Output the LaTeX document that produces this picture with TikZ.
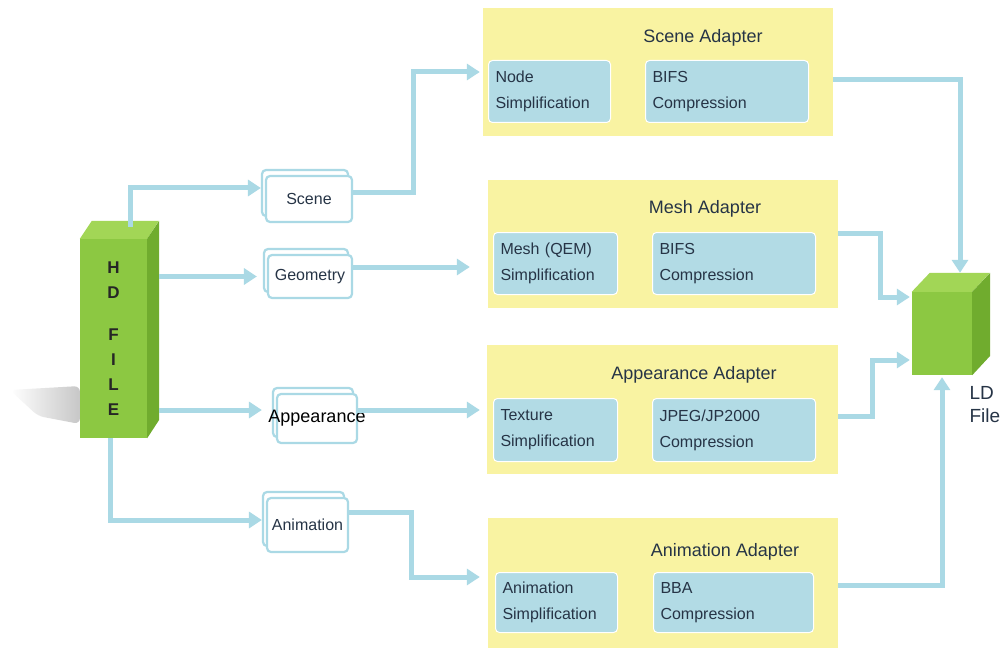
\documentclass[tikz,border=0pt]{standalone}
\usepackage{fontspec}
\setmainfont{Liberation Sans}
\usetikzlibrary{arrows.meta,shadows,calc}
\definecolor{arrowblue}{RGB}{170,217,229}
\definecolor{padyellow}{RGB}{249,243,162}
\definecolor{innerblue}{RGB}{178,219,229}
\definecolor{gfront}{RGB}{140,200,66}
\definecolor{gtop}{RGB}{162,214,86}
\definecolor{gside}{RGB}{112,172,46}
\definecolor{txtdark}{RGB}{38,52,70}
\begin{document}
\begin{tikzpicture}[x=1pt,y=-1pt,
  arr/.style={draw=arrowblue,line width=5pt,-{Triangle[length=13pt,width=16pt]}},
  adapter/.style={fill=padyellow,draw=none,inner sep=0pt},
  title/.style={font=\fontsize{18}{20}\selectfont,text=txtdark},
  inner/.style={fill=innerblue,draw=white,line width=1pt,rounded corners=4pt,
     align=left,anchor=north west,inner xsep=7pt,inner ysep=0pt,
     font=\fontsize{16}{26}\selectfont,text=txtdark},
  doc/.style={fill=white,draw=arrowblue,line width=2.2pt,rounded corners=4pt,
     copy shadow={shadow xshift=-4pt,shadow yshift=6pt},inner sep=0pt,
     font=\fontsize{16}{18}\selectfont,text=txtdark},
]
\useasboundingbox (0,0) rectangle (1002,650);
\fill[white] (0,0) rectangle (1002,650);

% shadow of HD file
\shade[left color=white,right color=black!22,rounded corners=6pt] (10,390) -- (80,386) -- (80,424) -- (38,416) -- cycle;

% adapters
\node[adapter,minimum width=350pt,minimum height=128pt] (sa) at (658,72) {};
\node[adapter,minimum width=350pt,minimum height=128pt] (ma) at (663,244) {};
\node[adapter,minimum width=351pt,minimum height=129pt] (aa) at (662.5,409.5) {};
\node[adapter,minimum width=350pt,minimum height=130pt] (na) at (663,583) {};

\node[title] (sat) at (703,38) {Scene Adapter};
\node[title] (mat) at (705,209) {Mesh Adapter};
\node[title] (aat) at (694,375) {Appearance Adapter};
\node[title] (nat) at (725,552) {Animation Adapter};

\node[inner,minimum width=122pt,minimum height=62pt,text width=108pt] (sa1) at (488,60) {Node\\Simplification};
\node[inner,minimum width=163pt,minimum height=62pt,text width=149pt] (sa2) at (645,60) {BIFS\\Compression};
\node[inner,minimum width=124pt,minimum height=62pt,text width=110pt] (ma1) at (493,232) {Mesh (QEM)\\Simplification};
\node[inner,minimum width=163pt,minimum height=62pt,text width=149pt] (ma2) at (652,232) {BIFS\\Compression};
\node[inner,minimum width=124pt,minimum height=63pt,text width=110pt] (aa1) at (493,398) {Texture\\Simplification};
\node[inner,minimum width=163pt,minimum height=63pt,text width=149pt] (aa2) at (652,398) {JPEG/JP2000\\Compression};
\node[inner,minimum width=122pt,minimum height=60pt,text width=108pt] (na1) at (495,572) {Animation\\Simplification};
\node[inner,minimum width=160pt,minimum height=60pt,text width=146pt] (na2) at (653,572) {BBA\\Compression};

% intermediate document boxes
\node[doc,minimum width=86pt,minimum height=46pt] (scene) at (309,199) {Scene};
\node[doc,minimum width=84pt,minimum height=43pt] (geometry) at (310,276.5) {Geometry};
\node[doc,minimum width=80pt,minimum height=49pt,text=black,font=\fontsize{18}{20}\selectfont] (appearance) at (317,418.5) {\makebox[0pt]{Appearance}};
\node[doc,minimum width=81pt,minimum height=54pt] (animation) at (307.5,525) {Animation};

% HD file (front face node)
\node[fill=gfront,minimum width=67pt,minimum height=199pt,inner sep=0pt,align=center,
      font=\bfseries\fontsize{17}{25}\selectfont,text=black!85] (hd) at (113.5,338.5)
      {H\\D\\[17pt]F\\I\\L\\E};
\fill[gtop] (hd.north west) -- ++(12,-18) -- ++(67,0) -- (hd.north east) -- cycle;
\fill[gside] (hd.north east) -- ++(12,-18) -- ++(0,199) -- (hd.south east) -- cycle;

% LD file
\node[fill=gfront,minimum width=60pt,minimum height=83pt,inner sep=0pt] (ld) at (942,333.5) {};
\fill[gtop] (ld.north west) -- ++(18,-19) -- ++(60,0) -- (ld.north east) -- cycle;
\fill[gside] (ld.north east) -- ++(18,-19) -- ++(0,83) -- (ld.south east) -- cycle;
\node[anchor=north west,align=left,font=\fontsize{19}{23}\selectfont,text=txtdark] (ldt) at (966,383) {LD\\File};

% connectors from HD file
\draw[arr] ([xshift=16.5pt,yshift=12pt]hd.north) |- ([xshift=-4pt,yshift=11pt]scene.west);
\draw[arr] (hd.east |- geometry.west) ++(12,0) -- ([xshift=-10pt]geometry.west);
\draw[arr] ([xshift=12pt,yshift=-71.5pt]hd.east) -- ([xshift=-14pt,yshift=8.5pt]appearance.west);
\draw[arr] ([xshift=-3.5pt]hd.south) |- ([xshift=-4pt,yshift=5pt]animation.west);

% connectors to adapters
\draw[arr] ([yshift=6pt]scene.east) -- ++(60,0) |- ([xshift=-3pt]sa.west);
\draw[arr] ([yshift=9.5pt]geometry.east) -- ([xshift=-18pt,yshift=-23pt]ma.west);
\draw[arr] ([yshift=8.5pt]appearance.east) -- ([xshift=-7pt,yshift=-0.5pt]aa.west);
\draw[arr] ([yshift=13pt]animation.east) -- ++(62,0) |- ([xshift=-8pt,yshift=6pt]na.west);

% connectors to LD file
\draw[arr] ([yshift=-8pt]sa.east) -| ([xshift=18pt,yshift=19pt]ld.north);
\draw[arr] ([yshift=11pt]ma.east) -- ++(42,0) |- ([xshift=-2pt,yshift=36.5pt]ld.west);
\draw[arr] ([yshift=-6.5pt]aa.east) -- ++(34,0) |- ([xshift=-2pt,yshift=-26.5pt]ld.west);
\draw[arr] ([yshift=-2pt]na.east) -| ([yshift=-2pt]ld.south);
\end{tikzpicture}
\end{document}
